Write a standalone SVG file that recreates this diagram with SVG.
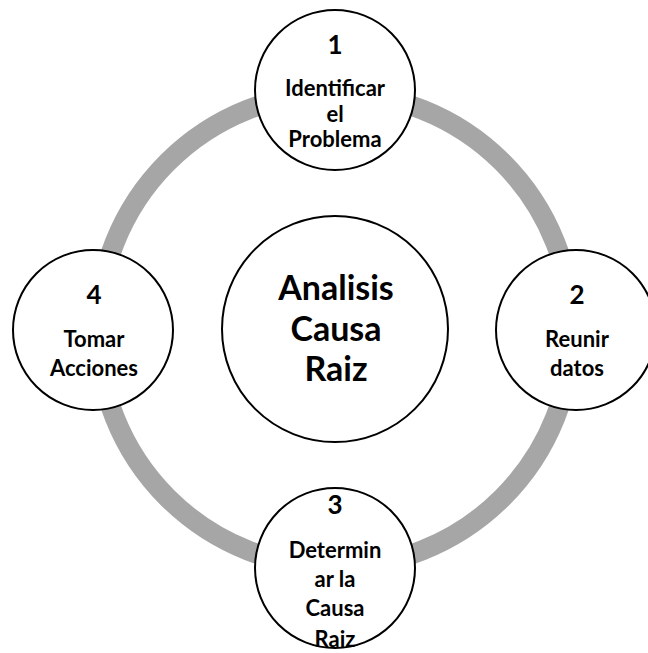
<svg xmlns="http://www.w3.org/2000/svg" width="648" height="653" viewBox="0 0 648 653">
<style>
.node{fill:#fff;stroke:#000;stroke-width:2}
.t{font-family:Lato,"Open Sans","Liberation Sans",sans-serif;font-weight:bold;fill:#000;text-anchor:middle}
.num{font-size:26px}
.lbl{font-size:22px}
.big{font-size:34px}
</style>
<rect width="648" height="653" fill="#fff"/>
<g id="connectors">
<circle cx="335" cy="330" r="237" fill="none" stroke="#a6a6a6" stroke-width="20"/>
</g>
<g id="center">
<circle class="node" cx="335" cy="329" r="113"/>
<text class="t big" x="336" y="300">Analisis</text>
<text class="t big" x="336" y="341">Causa</text>
<text class="t big" x="336" y="381">Raiz</text>
</g>
<g id="n1">
<circle class="node" cx="335" cy="90" r="80"/>
<text class="t num" x="335" y="54">1</text>
<text class="t lbl" x="335" y="96">Identificar</text>
<text class="t lbl" x="335" y="122">el</text>
<text class="t lbl" x="335" y="147">Problema</text>
</g>
<g id="n2">
<circle class="node" cx="576" cy="330" r="80"/>
<text class="t num" x="577" y="304">2</text>
<text class="t lbl" x="577" y="347">Reunir</text>
<text class="t lbl" x="577" y="376">datos</text>
</g>
<g id="n3">
<circle class="node" cx="335" cy="568" r="80"/>
<text class="t num" x="335" y="514">3</text>
<text class="t lbl" x="335" y="558">Determin</text>
<text class="t lbl" x="335" y="587">ar la</text>
<text class="t lbl" x="335" y="616">Causa</text>
<text class="t lbl" x="335" y="647">Raiz</text>
</g>
<g id="n4">
<circle class="node" cx="93" cy="330" r="80"/>
<text class="t num" x="94" y="304">4</text>
<text class="t lbl" x="94" y="347">Tomar</text>
<text class="t lbl" x="94" y="376">Acciones</text>
</g>
</svg>
